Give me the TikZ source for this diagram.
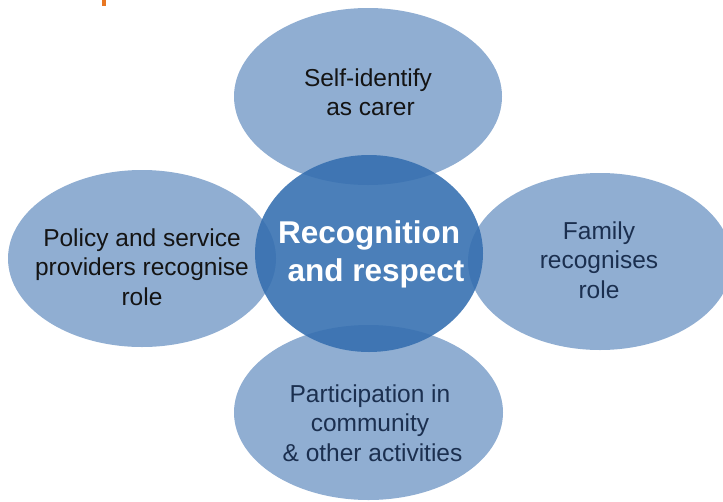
\documentclass[tikz,border=0pt]{standalone}
\usepackage{fontspec}
\setmainfont{Liberation Sans}
\usetikzlibrary{shapes.geometric}
\definecolor{outerblue}{RGB}{70,120,180}
\definecolor{innerblue}{RGB}{53,111,176}
\definecolor{darktext}{RGB}{20,20,20}
\definecolor{navytext}{RGB}{27,47,79}
\definecolor{markorange}{RGB}{232,119,34}
\tikzset{
  outerell/.style={ellipse, fill=outerblue, fill opacity=0.6, draw=none, inner sep=0pt},
  innerell/.style={ellipse, fill=innerblue, fill opacity=0.89, draw=none, inner sep=0pt},
  outertext/.style={align=center, inner sep=0pt, font=\fontsize{24.5}{29.5}\selectfont},
  innertext/.style={align=center, inner sep=0pt, text=white, font=\fontsize{31.5}{38}\selectfont\bfseries},
}
\begin{document}
\begin{tikzpicture}[x=1pt,y=-1pt]
\useasboundingbox (0,0) rectangle (723,501);
\fill[markorange] (102,0) rectangle (106,6);
% outer ellipses
\node[outerell, minimum width=268pt, minimum height=177pt] (top) at (368,96.5) {};
\node[outerell, minimum width=268pt, minimum height=177pt] (left) at (142,258.5) {};
\node[outerell, minimum width=264pt, minimum height=177pt] (right) at (600,261.5) {};
\node[outerell, minimum width=269pt, minimum height=175pt] (bottom) at (368.5,412.5) {};
% centre
\node[innerell, minimum width=228pt, minimum height=197pt] (centre) at (369,253.5) {};
% texts
\node[outertext, text=darktext] (toptxt) at (368,92) {Self-identify\\ \hspace*{5pt}as carer};
\node[outertext, text=darktext] (lefttxt) at (142,267) {Policy and service\\providers recognise\\role};
\node[outertext, text=navytext] (righttxt) at (599,260) {Family\\recognises\\role};
\node[outertext, text=navytext] (bottomtxt) at (370,423) {Participation in\\community\\ \hspace*{5pt}\& other activities};
\node[innertext] (centretxt) at (369,254) {Recognition\\ \hspace*{14pt}and respect};
\end{tikzpicture}
\end{document}
